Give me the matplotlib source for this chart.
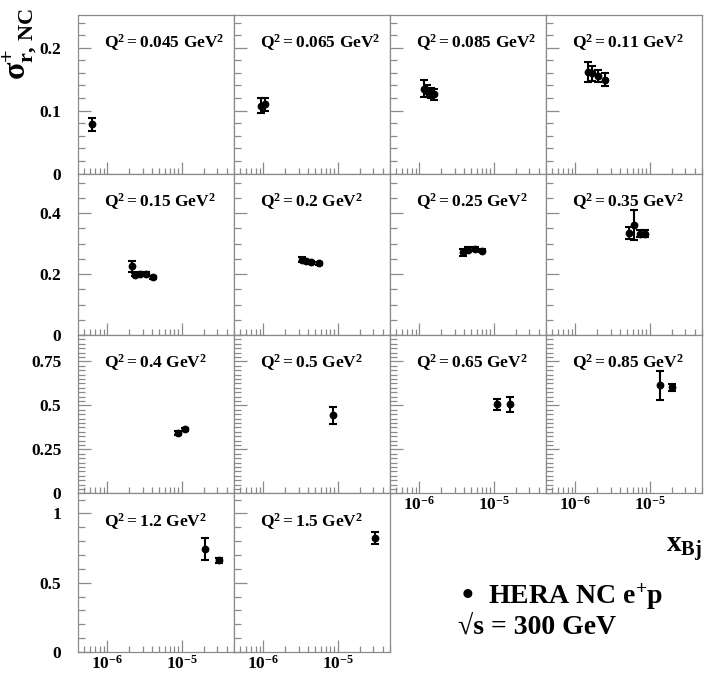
import math
import matplotlib
matplotlib.use("Agg")
import matplotlib.pyplot as plt
from matplotlib.ticker import LogLocator, MultipleLocator, FuncFormatter, NullFormatter

plt.rcParams["font.family"] = ["Liberation Serif", "DejaVu Serif"]
plt.rcParams["font.weight"] = "bold"
plt.rcParams["mathtext.fontset"] = "custom"
plt.rcParams["mathtext.rm"] = "Liberation Serif"
plt.rcParams["mathtext.it"] = "Liberation Serif:italic"
plt.rcParams["mathtext.bf"] = "Liberation Serif:bold"

# Q^2 bins (GeV^2), laid out row by row
q2_labels = ["0.045", "0.065", "0.085", "0.11",
             "0.15", "0.2", "0.25", "0.35",
             "0.4", "0.5", "0.65", "0.85",
             "1.2", "1.5"]

# Bjorken x of each measurement per Q^2 bin
x_bj = [
    [6.4e-7],
    [9.4e-7, 1.06e-6],
    [1.17e-6, 1.29e-6, 1.45e-6, 1.58e-6],
    [1.48e-6, 1.67e-6, 2.04e-6, 2.51e-6],
    [2.13e-6, 2.36e-6, 2.75e-6, 3.28e-6, 4.14e-6],
    [3.28e-6, 3.74e-6, 4.45e-6, 5.58e-6],
    [3.9e-6, 4.54e-6, 5.58e-6, 7.06e-6],
    [5.3e-6, 6.12e-6, 7.36e-6, 8.58e-6],
    [8.93e-6, 1.12e-5],
    [8.65e-6],
    [1.107e-5, 1.65e-5],
    [1.39e-5, 1.98e-5],
    [2.03e-5, 3.14e-5],
    [3.11e-5],
]

# reduced NC e+p cross section
sigma_r = [
    [0.078],
    [0.108, 0.110],
    [0.135, 0.131, 0.128, 0.126],
    [0.162, 0.159, 0.155, 0.149],
    [0.225, 0.198, 0.201, 0.201, 0.189],
    [0.247, 0.242, 0.238, 0.236],
    [0.271, 0.280, 0.282, 0.277],
    [0.335, 0.362, 0.333, 0.333],
    [0.345, 0.364],
    [0.443],
    [0.505, 0.505],
    [0.613, 0.603],
    [0.743, 0.661],
    [0.822],
]

# total uncertainties
sigma_err = [
    [0.010],
    [0.012, 0.010],
    [0.014, 0.010, 0.008, 0.009],
    [0.016, 0.012, 0.010, 0.010],
    [0.018, 0.006, 0.005, 0.005, 0.005],
    [0.008, 0.005, 0.005, 0.005],
    [0.012, 0.008, 0.006, 0.006],
    [0.020, 0.049, 0.012, 0.010],
    [0.012, 0.008],
    [0.050],
    [0.031, 0.045],
    [0.083, 0.020],
    [0.079, 0.020],
    [0.042],
]

# per-row vertical axis settings
row_ymax = [0.252, 0.53, 0.9, 1.145]
row_major = [0.1, 0.2, 0.25, 0.5]
row_minor = [0.02, 0.05, 0.025, 0.1]
x_range = (4.1e-7, 5.0e-5)

W, H = 705, 673
col_left = [78, 234, 390, 546]
col_w = 156
row_top = [15, 173.5, 335, 493.3]
row_bot = [173.5, 335, 493.3, 652]

fig = plt.figure(figsize=(W / 100, H / 100), dpi=100)
frame_col = "#8a8a8a"


def yfmt(v, pos):
    return "%g" % round(v, 3)


def xfmt(v, pos):
    e = int(round(math.log10(v)))
    return r"$\mathbf{10^{%d}}$" % e


for i, lab in enumerate(q2_labels):
    r, c = divmod(i, 4)
    ax = fig.add_axes([col_left[c] / W, 1 - row_bot[r] / H,
                       col_w / W, (row_bot[r] - row_top[r]) / H])
    ax.set_xscale("log")
    ax.set_xlim(*x_range)
    ax.set_ylim(0, row_ymax[r])
    for s in ax.spines.values():
        s.set_color(frame_col)
        s.set_linewidth(0.9)
    ax.yaxis.set_major_locator(MultipleLocator(row_major[r]))
    ax.yaxis.set_minor_locator(MultipleLocator(row_minor[r]))
    ax.xaxis.set_major_locator(LogLocator(base=10, numticks=10))
    ax.xaxis.set_minor_locator(LogLocator(base=10, subs=range(2, 10), numticks=20))
    ax.xaxis.set_minor_formatter(NullFormatter())
    ax.tick_params(which="both", direction="in", colors=frame_col,
                   top=False, right=False, labelcolor="black",
                   labelsize=12.5, width=0.9)
    ax.tick_params(which="major", axis="y", length=9, pad=12)
    ax.tick_params(which="minor", axis="y", length=5)
    ax.tick_params(which="major", axis="x", length=8.5, pad=2)
    ax.tick_params(which="minor", axis="x", length=4.5)

    if c == 0:
        ax.yaxis.set_major_formatter(FuncFormatter(yfmt))
    else:
        ax.tick_params(axis="y", labelleft=False)
    if r == 3 or (r == 2 and c >= 2):
        ax.xaxis.set_major_formatter(FuncFormatter(xfmt))
    else:
        ax.tick_params(axis="x", labelbottom=False)
    for t in ax.get_yticklabels() + ax.get_xticklabels():
        t.set_fontweight("bold")

    ax.errorbar(x_bj[i], sigma_r[i], yerr=sigma_err[i], fmt="o",
                color="black", markersize=4.6, elinewidth=1.5,
                capsize=3, capthick=1.5, zorder=3)

    ax.text(0.165, 1 - 33 / (row_bot[r] - row_top[r]),
            r"$\mathbf{Q^2 = %s\ GeV^2}$" % lab,
            transform=ax.transAxes, fontsize=12.5, ha="left",
            va="baseline")

# axis titles
fig.text(20 / W, 1 - 44 / H, r"$\mathrm{σ^{+}_{r,\,NC}}$", rotation=90,
         ha="center", va="center", fontsize=23)
fig.text(684 / W, 1 - 549 / H, r"$\mathbf{x_{Bj}}$", ha="center",
         va="center", fontsize=21)

# data-set description
fig.text(468 / W, 1 - 597 / H, "•", ha="center", va="center", fontsize=24)
fig.text(488 / W, 1 - 597 / H, r"$\mathbf{HERA\ NC\ e^{+}p}$", ha="left",
         va="center", fontsize=20)
fig.text(458 / W, 1 - 627 / H, "√s = 300 GeV", ha="left", va="center",
         fontsize=20, fontweight="bold")

fig.savefig("out.png", dpi=100)
